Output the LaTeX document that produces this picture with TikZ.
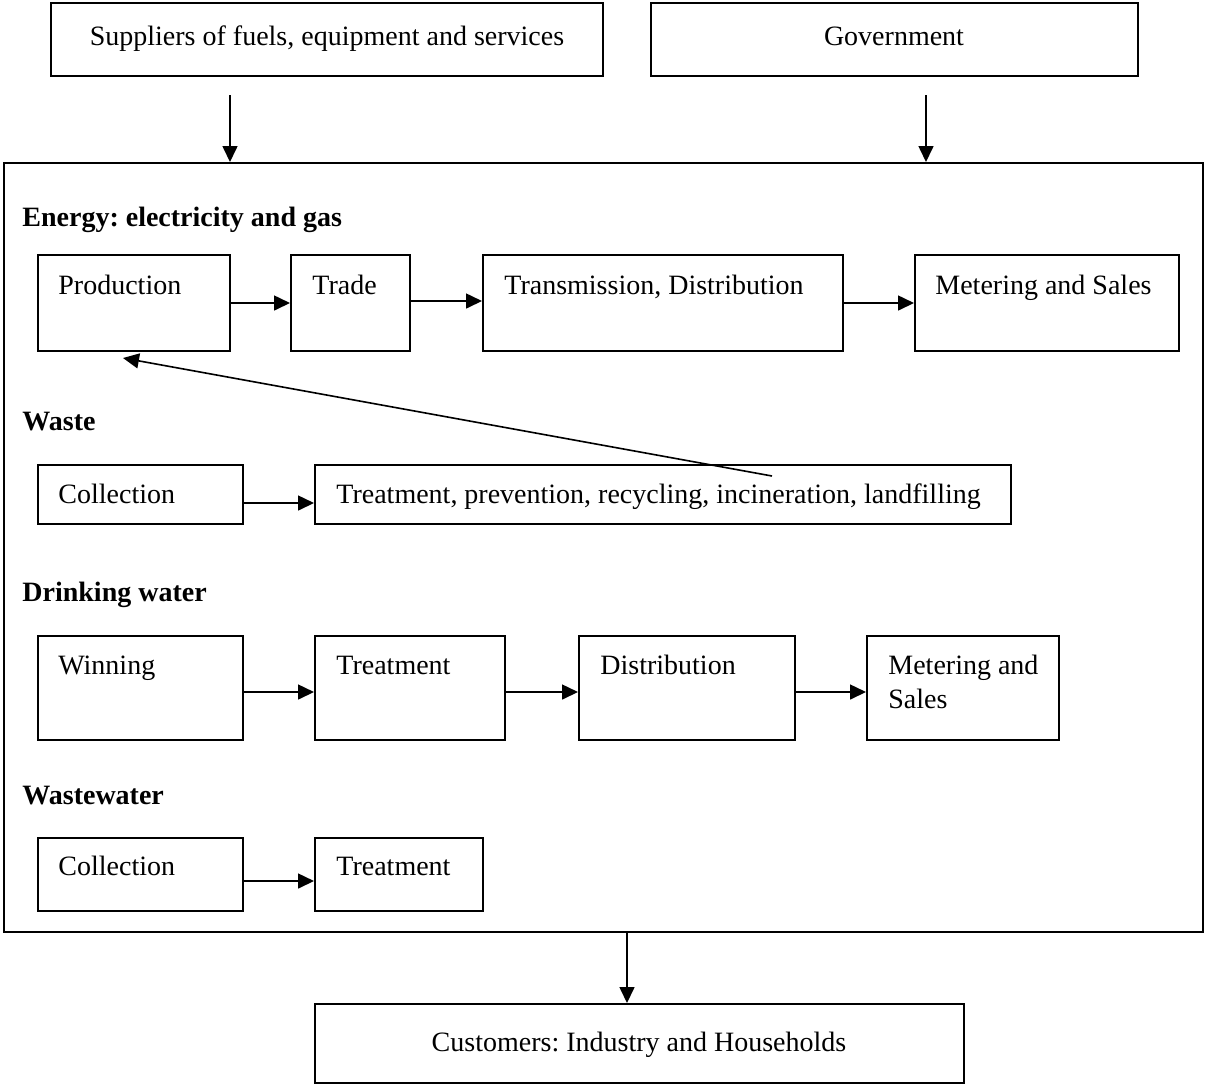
\documentclass[tikz,border=0pt]{standalone}
\usepackage{fontspec}
\setmainfont{Liberation Serif}
\usetikzlibrary{fit,arrows.meta}
\frenchspacing
\tikzset{
  box/.style={draw, line width=1pt, inner sep=0pt},
  txt/.style={anchor=base west, inner sep=0pt, font=\fontsize{14}{16}\selectfont},
  ctxt/.style={anchor=base, inner sep=0pt, font=\fontsize{14}{16}\selectfont},
  head/.style={anchor=base west, inner sep=0pt, font=\fontsize{14}{16}\selectfont\bfseries},
  arr/.style={line width=0.8pt, -{Triangle[length=8pt,width=7.5pt]}}
}
\begin{document}
\frenchspacing
\begin{tikzpicture}[x=0.5pt,y=-0.5pt]
\useasboundingbox (0,0) rectangle (1205,1084);
% top boxes
\node[box, fit={(51,3)(603,76)}] (sup) {};
\node[ctxt] (suptxt) at (327,45) {Suppliers of fuels, equipment and services};
\node[box, fit={(651,3)(1138,76)}] (gov) {};
\node[ctxt] (govtxt) at (894,45) {Government};
% big box
\node[box, fit={(4,163)(1203,932)}] (big) {};
% energy
\node[head] (henergy) at (22,226) {Energy: electricity and gas};
\node[box, fit={(38,255)(230,351)}] (prod) {};
\node[txt] (prodtxt) at (58,294) {Production};
\node[box, fit={(291,255)(410,351)}] (trade) {};
\node[txt] (tradetxt) at (312,294) {Trade};
\node[box, fit={(483,255)(843,351)}] (trans) {};
\node[txt] (transtxt) at (504,294) {Transmission, Distribution};
\node[box, fit={(915,255)(1179,351)}] (emet) {};
\node[txt] (emettxt) at (935,294) {Metering and Sales};
\draw[arr] (prod.east |- 0,303) -- (trade.west |- 0,303);
\draw[arr] (trade.east |- 0,301) -- (trans.west |- 0,301);
\draw[arr] (trans.east |- 0,303) -- (emet.west |- 0,303);
% waste
\node[head] (hwaste) at (22,430) {Waste};
\node[box, fit={(38,465)(243,524)}] (wcol) {};
\node[txt] (wcoltxt) at (58,503) {Collection};
\node[box, fit={(315,465)(1011,524)}] (wtreat) {};
\node[txt] (wtreattxt) at (336,503) {Treatment, prevention, recycling, incineration, landfilling};
\draw[arr] (wcol.east |- 0,503) -- (wtreat.west |- 0,503);
\coordinate (ds) at (772,476);
\coordinate (de) at (123,358);
\draw[arr] (ds) -- (de);
% drinking water
\node[head] (hdrink) at (22,601) {Drinking water};
\node[box, fit={(38,636)(243,740)}] (win) {};
\node[txt] (wintxt) at (58,674) {Winning};
\node[box, fit={(315,636)(505,740)}] (dtreat) {};
\node[txt] (dtreattxt) at (336,674) {Treatment};
\node[box, fit={(579,636)(795,740)}] (dist) {};
\node[txt] (disttxt) at (600,674) {Distribution};
\node[box, fit={(867,636)(1059,740)}] (dmet) {};
\node[txt] (dmettxt1) at (888,674) {Metering and};
\node[txt] (dmettxt2) at (888,708) {Sales};
\draw[arr] (win.east |- 0,692) -- (dtreat.west |- 0,692);
\draw[arr] (dtreat.east |- 0,692) -- (dist.west |- 0,692);
\draw[arr] (dist.east |- 0,692) -- (dmet.west |- 0,692);
% wastewater
\node[head] (hww) at (22,804) {Wastewater};
\node[box, fit={(38,838)(243,911)}] (wwcol) {};
\node[txt] (wwcoltxt) at (58,875) {Collection};
\node[box, fit={(315,838)(483,911)}] (wwtreat) {};
\node[txt] (wwtreattxt) at (336,875) {Treatment};
\draw[arr] (wwcol.east |- 0,881) -- (wwtreat.west |- 0,881);
% customers
\node[box, fit={(315,1004)(964,1083)}] (cust) {};
\node[ctxt] (custtxt) at (639,1051) {Customers: Industry and Households};
% vertical arrows
\coordinate (sa) at (230,95);
\coordinate (ga) at (926,95);
\draw[arr] (sa) -- (big.north -| sa);
\draw[arr] (ga) -- (big.north -| ga);
\coordinate (ca) at (627,932);
\draw[arr] (big.south -| ca) -- (cust.north -| ca);
\end{tikzpicture}
\end{document}
